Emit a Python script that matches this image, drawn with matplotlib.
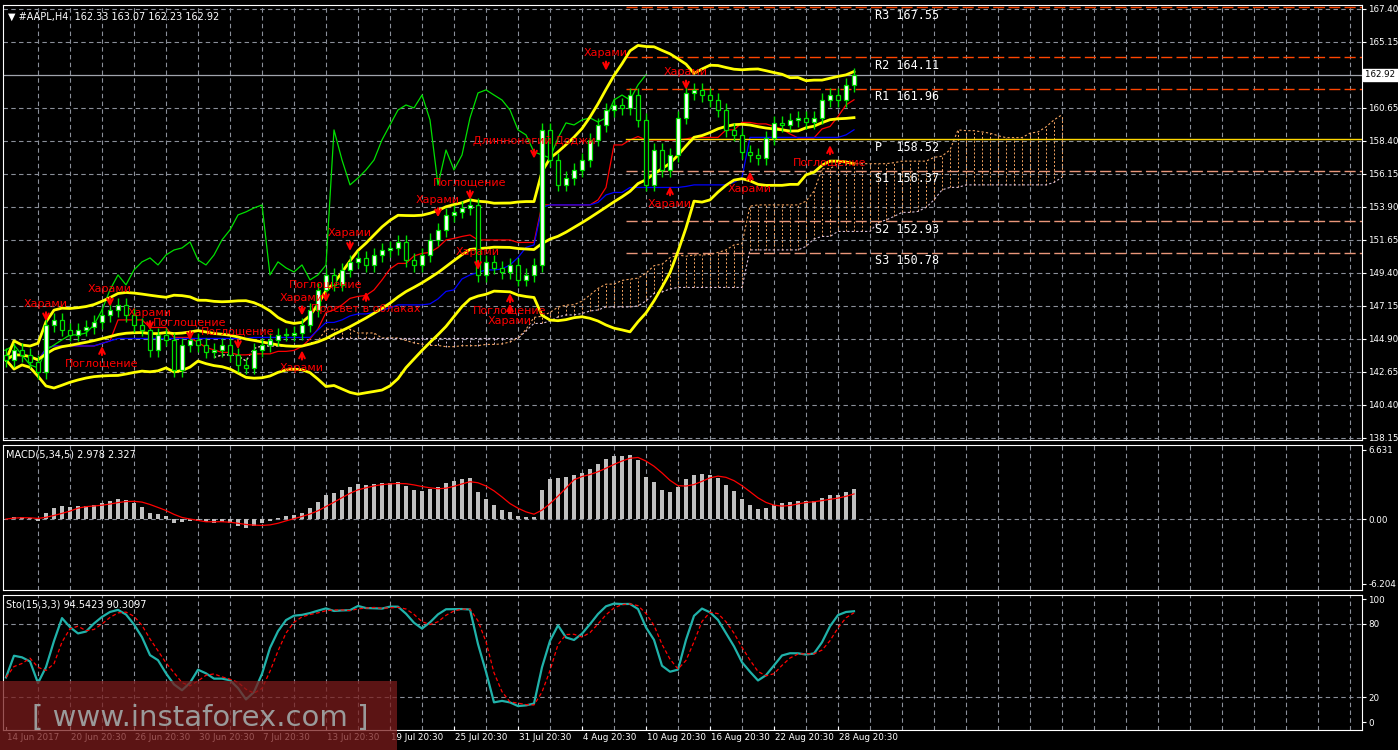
import numpy as np
import pandas as pd
import matplotlib
matplotlib.use("Agg")
import matplotlib.pyplot as plt
from matplotlib.patches import Rectangle

closes = [143.46,144.14,143.80,143.33,142.64,145.85,146.19,145.51,145.17,145.51,145.71,146.05,146.53,146.87,147.21,
          146.53,145.85,145.51,144.14,145.17,144.83,142.78,144.48,144.83,144.48,144.01,144.14,144.48,143.80,143.12,
          142.92,144.14,144.48,144.83,145.17,145.17,145.30,145.85,146.87,148.24,149.26,148.58,149.60,150.15,150.42,
          149.94,150.62,150.96,151.10,151.51,150.28,149.94,150.62,151.65,152.33,153.35,153.56,153.83,154.03,149.26,
          150.15,149.74,149.46,149.94,148.92,149.26,149.94,159.15,157.10,155.40,155.87,156.42,157.10,158.47,159.49,
          160.51,160.85,160.65,161.53,159.83,155.40,157.78,156.42,157.44,159.97,161.67,161.88,161.53,161.19,160.51,
          159.15,158.81,157.65,157.44,157.24,158.60,159.63,159.49,159.83,159.97,159.69,159.97,161.19,161.53,161.19,
          162.22,162.92]
first_open = 143.80
wick = 0.45

date_labels = ["14 Jun 2017","20 Jun 20:30","26 Jun 20:30","30 Jun 20:30","7 Jul 20:30","13 Jul 20:30",
               "19 Jul 20:30","25 Jul 20:30","31 Jul 20:30","4 Aug 20:30","10 Aug 20:30","16 Aug 20:30",
               "22 Aug 20:30","28 Aug 20:30"]
pivot_names = ["R3","R2","R1","P","S1","S2","S3"]
pivot_vals = [167.55,164.11,161.96,158.52,156.37,152.93,150.78]
price_ticks = [167.40,165.15,160.65,158.40,156.15,153.90,151.65,149.40,147.15,144.90,142.65,140.40,138.15]
patterns = [("Харами",5,146.9,"d"),("Харами",13,147.9,"d"),("Поглощение",12,143.6,"u"),("Харами",18,146.3,"d"),
            ("Поглощение",23,145.6,"d"),("Поглощение",29,145.0,"d"),("Харами",37,147.3,"d"),("Харами",37,143.3,"u"),
            ("Поглощение",40,148.2,"d"),("Просвет в облаках",45,147.3,"u"),("Харами",43,151.7,"d"),
            ("Харами",54,154.0,"d"),("Поглощение",58,155.2,"d"),("Харами",59,150.4,"d"),("Поглощение",63,147.2,"u"),
            ("Харами",63,146.5,"u"),("Длинноногий Доджи",66,158.0,"d"),("Харами",75,164.0,"d"),
            ("Харами",83,154.5,"u"),("Харами",85,162.7,"d"),("Харами",93,155.5,"u"),("Поглощение",103,157.3,"u")]

c = np.array(closes)
n = len(c)
o = np.concatenate([[first_open], c[:-1]])
h = np.maximum(o, c) + wick
l = np.minimum(o, c) - wick
idx = np.arange(n)
s = pd.Series(c); hs = pd.Series(h); ls = pd.Series(l)

W, H = 1398, 750
fig = plt.figure(figsize=(W/100, H/100), dpi=100, facecolor="black")
plt.rcParams['font.family'] = ['DejaVu Sans']
X0, X1 = 3, 1362
GRID = "#8a8f99"
def ax_at(top, bot):
    a = fig.add_axes([X0/W, 1-bot/H, (X1-X0)/W, (bot-top)/H], facecolor="black")
    for sp in a.spines.values():
        sp.set_color("white")
    a.set_xlim(-0.375, (X1-X0-3)/8)
    a.tick_params(axis='x', bottom=False, labelbottom=False)
    a.yaxis.tick_right()
    a.tick_params(axis='y', colors='white', labelsize=6.3, length=3, pad=1.5)
    return a

gx = np.arange(4, 170, 4)
def vgrid(a):
    for gxv in gx:
        a.axvline(gxv, color=GRID, ls=(0,(4,3)), lw=0.8, zorder=0)

ax = ax_at(5, 440)
ax.set_ylim(138.0, 167.67)
ax.set_yticks(price_ticks)
ax.set_yticklabels([f"{v:.2f}" for v in price_ticks])
for v in price_ticks:
    ax.axhline(v, color=GRID, ls=(0,(4,3)), lw=0.8, zorder=0)
vgrid(ax)

# Ichimoku
tenkan = (hs.rolling(9, min_periods=1).max() + ls.rolling(9, min_periods=1).min())/2
kijun = (hs.rolling(26, min_periods=1).max() + ls.rolling(26, min_periods=1).min())/2
spanA = (tenkan + kijun)/2
spanB = (hs.rolling(52, min_periods=1).max() + ls.rolling(52, min_periods=1).min())/2
sx = idx + 26
for i in range(n):
    col = "#f4a460" if spanA[i] >= spanB[i] else "#d8bfd8"
    ax.vlines(sx[i], min(spanA[i], spanB[i]), max(spanA[i], spanB[i]), colors=col, lw=0.7, ls=(0,(2,2)), zorder=1)
ax.plot(sx, spanA, color="#f4a460", lw=0.8, ls=(0,(2,2)), zorder=1)
ax.plot(sx, spanB, color="#d8bfd8", lw=0.8, ls=(0,(2,2)), zorder=1)
ax.plot(idx, tenkan, color="red", lw=0.9, zorder=2)
ax.plot(idx, kijun, color="blue", lw=0.9, zorder=2)
ax.plot(idx - 26, c, color="#00e000", lw=0.9, zorder=2)

# Bollinger
mid = s.rolling(20, min_periods=1).mean()
sd = s.rolling(20, min_periods=1).std().fillna(0)
for b in (mid, mid + 2*sd, mid - 2*sd):
    ax.plot(idx, b, color="yellow", lw=2, zorder=3)

# pivots
pcol = {"R3":"#ff4500","R2":"#ff4500","R1":"#ff4500","P":"#ffd700","S1":"#e9967a","S2":"#e9967a","S3":"#e9967a"}
for nm, v in zip(pivot_names, pivot_vals):
    st = "-" if nm == "P" else (0,(8,3))
    ax.plot([77.5, 170], [v, v], color=pcol[nm], lw=1.0, ls=st, zorder=2)
    ax.text(108.6, v - 0.12, f"{nm} {v:.2f}" if nm != "P" else f"P  {v:.2f}", color="white",
            fontsize=8.5, family="DejaVu Sans Mono", va="top", zorder=6)

# current price
last = closes[-1]
ax.axhline(last, color="#a0a4ad", lw=0.9, zorder=2)
ax.text(1.002, last, f"{last:.2f} ", transform=ax.get_yaxis_transform(), color="black", fontsize=6.3,
        va="center", ha="left", bbox=dict(fc="white", ec="white", pad=1), clip_on=False)

# candles
for i in range(n):
    ax.vlines(i, l[i], h[i], color="#00e000", lw=1, zorder=4)
    bot, top = min(o[i], c[i]), max(o[i], c[i])
    fc = "white" if c[i] >= o[i] else "black"
    ax.add_patch(Rectangle((i-0.28, bot), 0.56, max(top-bot, 0.05), fc=fc, ec="#00e000", lw=0.9, zorder=5))

for txt, i, p, d in patterns:
    if d == "d":
        ax.annotate("", xy=(i, p-1.0), xytext=(i, p), arrowprops=dict(arrowstyle="->", color="red", lw=1.5), zorder=6)
        ax.text(i, p + 0.05, txt, color="red", fontsize=8, ha="center", va="bottom", zorder=6)
    else:
        ax.annotate("", xy=(i, p+1.0), xytext=(i, p), arrowprops=dict(arrowstyle="->", color="red", lw=1.5), zorder=6)
        ax.text(i, p - 0.05, txt, color="red", fontsize=8, ha="center", va="top", zorder=6)

ax.text(0.004, 0.985, "▼ #AAPL,H4  162.33 163.07 162.23 162.92", transform=ax.transAxes, color="white",
        fontsize=7, va="top", ha="left")

# MACD
m = ax_at(445, 590)
m.set_ylim(-6.8, 7.1)
macd = s.ewm(span=5, adjust=False).mean() - s.ewm(span=34, adjust=False).mean()
sig = macd.rolling(5, min_periods=1).mean()
m.bar(idx, macd, width=0.4, color="#c0c0c0", zorder=3)
m.plot(idx, sig, color="red", lw=0.9, zorder=4)
m.set_yticks([6.631, 0, -6.204]); m.set_yticklabels(["6.631", "0.00", "-6.204"])
m.axhline(0, color=GRID, ls=(0,(4,3)), lw=0.8, zorder=0)
vgrid(m)
m.text(0.002, 0.97, "MACD(5,34,5) 2.978 2.327", transform=m.transAxes, color="white", fontsize=7, va="top")

# Stochastic
st_ = ax_at(595, 730)
st_.set_ylim(-6.5, 103.3)
ll = ls.rolling(15, min_periods=1).min(); hh = hs.rolling(15, min_periods=1).max()
raw = 100*(s - ll)/(hh - ll).replace(0, np.nan)
k = raw.fillna(50).rolling(3, min_periods=1).mean()
dd = k.rolling(3, min_periods=1).mean()
st_.plot(idx, k, color="#20b2aa", lw=1.6, zorder=3)
st_.plot(idx, dd, color="red", lw=0.9, ls=(0,(3,2)), zorder=4)
st_.set_yticks([100, 80, 20, 0])
for v in (80, 20):
    st_.axhline(v, color=GRID, ls=(0,(4,3)), lw=0.8, zorder=0)
vgrid(st_)
st_.text(0.002, 0.97, "Sto(15,3,3) 94.5423 90.3097", transform=st_.transAxes, color="white", fontsize=7, va="top")
for j, lab in enumerate(date_labels):
    st_.text(j*8 + 0.1, -0.02, lab, transform=st_.get_xaxis_transform(), color="white", fontsize=6.3,
             va="top", ha="left", clip_on=False)
    st_.plot([j*8, j*8], [-6.5, -4], color="white", lw=0.8)

# watermark
fig.patches.append(Rectangle((0, 0), 397/W, 69/H, transform=fig.transFigure, fc="#7a1c1c", alpha=0.75, zorder=10))
fig.text(200/W, 32/H, "[ www.instaforex.com ]", color="#9a9a9a", fontsize=21, ha="center", va="center", zorder=11)

fig.savefig("out.png", dpi=100, facecolor="black")
